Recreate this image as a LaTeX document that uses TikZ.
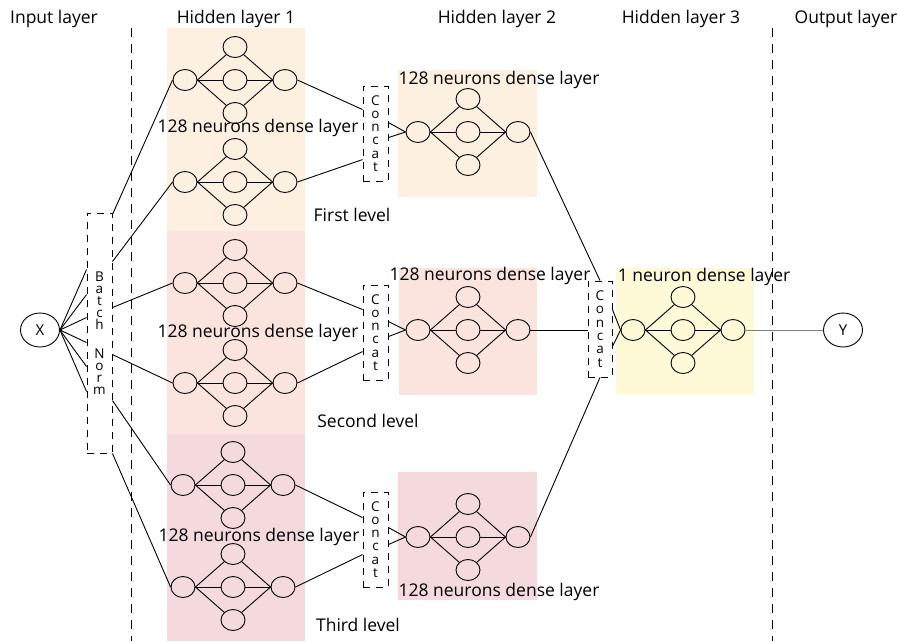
\documentclass[tikz,border=0pt]{standalone}
\usepackage{fontspec}
\setmainfont{Open Sans}
\usetikzlibrary{calc,shapes.geometric}
\definecolor{peach}{HTML}{FDF0E1}
\definecolor{rose}{HTML}{FCE4DE}
\definecolor{mauve}{HTML}{F4DADD}
\definecolor{lemon}{HTML}{FEFAD8}
\tikzset{
  neuron/.style={draw, ellipse, minimum width=24pt, minimum height=21pt, inner sep=0pt, line width=0.9pt},
  conn/.style={line width=0.9pt},
  iobox/.style={draw, ellipse, minimum width=39pt, minimum height=34pt, inner sep=0pt, line width=0.9pt, font=\fontsize{15}{15}\selectfont},
  catbox/.style={draw, dashed, dash pattern=on 7pt off 6pt, line width=0.9pt, minimum width=25pt, minimum height=95pt, inner sep=0pt, align=center, font=\fontsize{13.5}{13.3}\selectfont},
  divider/.style={dashed, dash pattern=on 9pt off 7pt, line width=0.9pt},
  lbl/.style={font=\fontsize{17.5}{19}\selectfont, inner sep=0pt},
}
\newcommand{\minet}[3]{%
  \node[neuron] (#1-i) at (#2,#3) {};
  \node[neuron] (#1-t) at ({#2+50},{#3-33}) {};
  \node[neuron] (#1-m) at ({#2+50},{#3}) {};
  \node[neuron] (#1-b) at ({#2+50},{#3+33}) {};
  \node[neuron] (#1-o) at ({#2+100},{#3}) {};
  \draw[conn] (#1-i.east) -- (#1-t);
  \draw[conn] (#1-i) -- (#1-m);
  \draw[conn] (#1-i.east) -- (#1-b);
  \draw[conn] (#1-t) -- (#1-o.west);
  \draw[conn] (#1-m) -- (#1-o);
  \draw[conn] (#1-b) -- (#1-o.west);
}
\begin{document}
\begin{tikzpicture}[x=1pt,y=-1pt]
\useasboundingbox (0,0) rectangle (898,641);
% backgrounds
\fill[peach] (167,28) rectangle (305,231);
\fill[rose] (167,231) rectangle (305,435);
\fill[mauve] (167,435) rectangle (305,641);
\fill[peach] (398,70) rectangle (537,197);
\fill[rose] (399,268) rectangle (537,395);
\fill[mauve] (398,472) rectangle (537,600);
\fill[lemon] (616,268) rectangle (754,395);
% dividers
\coordinate (dv1t) at (131,28); \coordinate (dv1b) at (131,641);
\coordinate (dv2t) at (772,28); \coordinate (dv2b) at (772,641);
\draw[divider] (dv1t) -- (dv1b);
\draw[divider] (dv2t) -- (dv2b);
% headings
\node[lbl] (hin) at (54,19) {Input layer};
\node[lbl] (hh1) at (236,19) {Hidden layer 1};
\node[lbl] (hh2) at (497,19) {Hidden layer 2};
\node[lbl] (hh3) at (681,19) {Hidden layer 3};
\node[lbl] (hout) at (846,19) {Output layer};
% networks
\minet{a1}{185}{80}
\minet{a2}{185}{182}
\minet{b1}{185}{283}
\minet{b2}{185}{383}
\minet{c1}{183}{485}
\minet{c2}{183}{587}
\minet{d1}{418}{132}
\minet{d2}{418}{330}
\minet{d3}{418}{537}
\minet{e}{633}{330}
% layer labels
\node[lbl] (la1) at (258,128) {128 neurons dense layer};
\node[lbl] (lb1) at (258,333) {128 neurons dense layer};
\node[lbl] (lc1) at (259,537) {128 neurons dense layer};
\node[lbl] (ld1) at (499,80) {128 neurons dense layer};
\node[lbl] (ld2) at (490,276) {128 neurons dense layer};
\node[lbl] (ld3) at (499,592) {128 neurons dense layer};
\node[lbl] (le) at (704,277) {1 neuron dense layer};
\node[lbl] (lv1) at (352,215) {First level};
\node[lbl] (lv2) at (368,421) {Second level};
\node[lbl] (lv3) at (358,625) {Third level};
% input / output
\node[iobox] (x) at (40,330) {X};
\node[iobox] (y) at (843,330) {Y};
% batch norm
\node[draw, dashed, dash pattern=on 7pt off 6pt, line width=0.9pt, minimum width=25pt, minimum height=240pt, inner sep=0pt, align=center, font=\fontsize{13.5}{12}\selectfont] (bn) at (99.5,333) {B\\a\\t\\c\\h\\[17pt]N\\o\\r\\m};
\foreach \d in {57,82,105,130,154,179}
  \draw[conn] (x.east) -- ($(bn.north west)+(0,\d)$);
\draw[conn] ($(bn.north east)+(0,2)$) -- (a1-i.west);
\draw[conn] ($(bn.north east)+(0,49)$) -- (a2-i.west);
\draw[conn] ($(bn.north east)+(0,95)$) -- (b1-i.west);
\draw[conn] ($(bn.north east)+(0,142)$) -- (b2-i.west);
\draw[conn] ($(bn.north east)+(0,188)$) -- (c1-i.west);
\draw[conn] (bn.south east) -- (c2-i.west);
% concat boxes
\node[catbox] (k1) at (375.5,133.5) {C\\o\\n\\c\\a\\t};
\node[catbox] (k2) at (375.5,332.5) {C\\o\\n\\c\\a\\t};
\node[catbox] (k3) at (375.5,539.5) {C\\o\\n\\c\\a\\t};
\node[catbox, minimum width=24pt, minimum height=96pt] (k4) at (600,329) {C\\o\\n\\c\\a\\t};
% concat links
\draw[conn] (a1-o.east) -- ($(k1.north west)+(0,24)$);
\draw[conn] (a2-o.east) -- ($(k1.north west)+(0,74)$);
\draw[conn] ($(k1.north east)+(0,37)$) -- (d1-i.west);
\draw[conn] ($(k1.north east)+(0,52)$) -- (d1-i.west);
\draw[conn] (b1-o.east) -- ($(k2.north west)+(0,25)$);
\draw[conn] (b2-o.east) -- ($(k2.north west)+(0,67)$);
\draw[conn] ($(k2.north east)+(0,37)$) -- (d2-i.west);
\draw[conn] ($(k2.north east)+(0,52)$) -- (d2-i.west);
\draw[conn] (c1-o.east) -- ($(k3.north west)+(0,26)$);
\draw[conn] (c2-o.east) -- ($(k3.north west)+(0,63)$);
\draw[conn] ($(k3.north east)+(0,36)$) -- (d3-i.west);
\draw[conn] ($(k3.north east)+(0,53)$) -- (d3-i.west);
\draw[conn] (d1-o.east) -- (k4.north);
\draw[conn] (d2-o.east) -- (d2-o.east -| k4.west);
\draw[conn] (d3-o.east) -- (k4.south);
\draw[conn] ($(k4.north east)+(0,29)$) -- (e-i.west);
\draw[conn] ($(k4.north east)+(0,66)$) -- (e-i.west);
\draw[line width=0.7pt, gray] (e-o.east) -- (y.west);
\end{tikzpicture}
\end{document}
